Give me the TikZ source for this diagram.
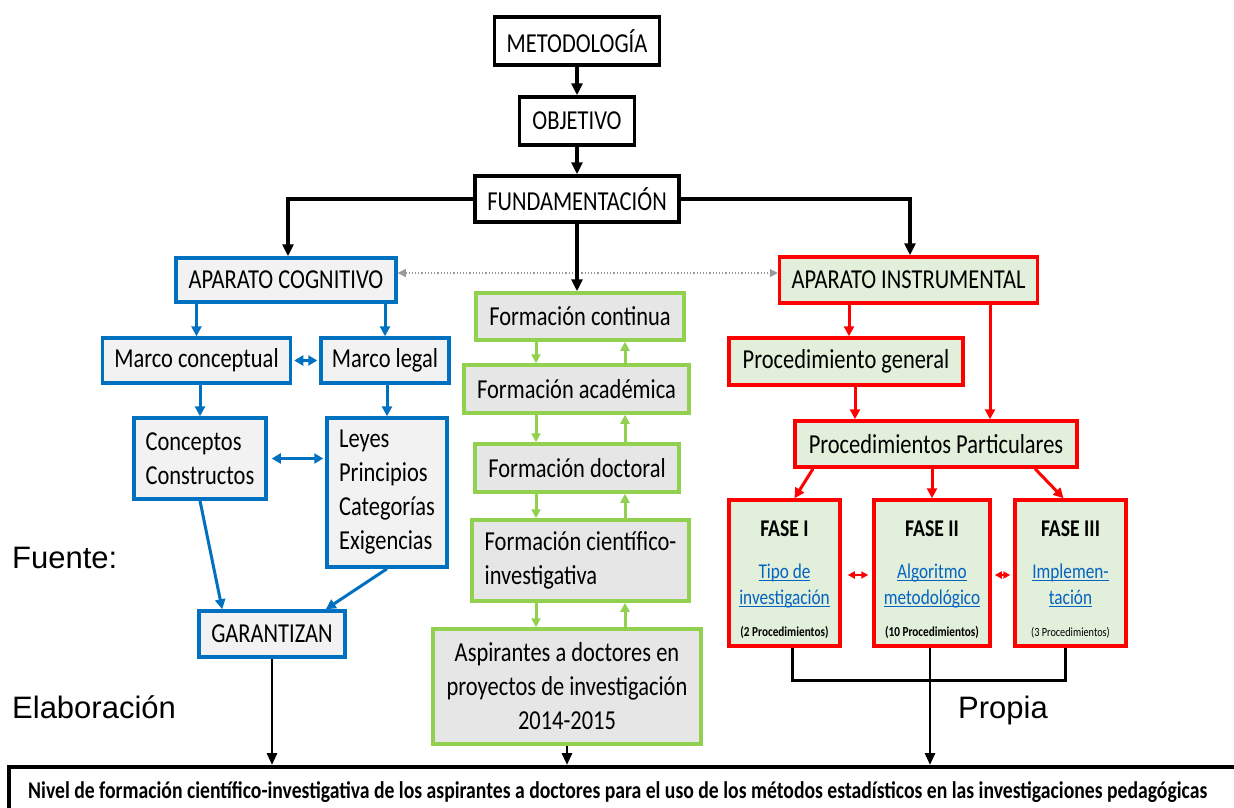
\documentclass[tikz,border=0pt]{standalone}
\usepackage{fontspec}
\usepackage{graphicx}
\setmainfont{Carlito}[FakeStretch=0.82]
\newfontfamily\arialfont{Liberation Sans}
\usetikzlibrary{arrows.meta,calc}

\definecolor{cogblue}{HTML}{0070C0}
\definecolor{cogfill}{HTML}{F2F2F2}
\definecolor{forgreen}{HTML}{92D050}
\definecolor{forfill}{HTML}{E6E6E6}
\definecolor{insred}{HTML}{FF0000}
\definecolor{insfill}{HTML}{E2EFDA}
\definecolor{linkblue}{HTML}{0563C1}
\definecolor{dotgray}{HTML}{999999}

% underlined hyperlink-like text
\newcommand\ulnk[1]{{\color{linkblue}\setbox0\hbox{#1}\rlap{\rule[-3pt]{\wd0}{1.3pt}}\box0}}

\begin{document}
\begin{tikzpicture}[x=1pt,y=-1pt,
  every node/.style={inner sep=0pt},
  bx/.style={draw, line width=3.5pt, rectangle, align=center,
    font=\fontsize{27.4}{34}\selectfont},
  blkbox/.style={bx, draw=black, fill=white},
  cogbox/.style={bx, draw=cogblue, fill=cogfill},
  forbox/.style={bx, draw=forgreen, fill=forfill},
  insbox/.style={bx, draw=insred, fill=insfill},
  blk/.style={draw=black, line width=3.2pt},
  blkarr/.style={blk, -{Triangle[length=12pt,width=11pt]}},
  thinblk/.style={draw=black, line width=2.8pt},
  thinblkarr/.style={thinblk, -{Triangle[length=12pt,width=10pt]}},
  cogarr/.style={draw=cogblue, line width=3pt, -{Triangle[length=10pt,width=10pt]}},
  cogdbl/.style={draw=cogblue, line width=3pt, {Triangle[length=9pt,width=10pt]}-{Triangle[length=9pt,width=10pt]}},
  forarr/.style={draw=forgreen, line width=3pt, -{Triangle[length=9pt,width=9pt]}},
  insarr/.style={draw=insred, line width=3pt, -{Triangle[length=10pt,width=10pt]}},
  insdbl/.style={draw=insred, line width=2pt, {Triangle[length=7pt,width=7pt]}-{Triangle[length=7pt,width=7pt]}},
  dotarr/.style={draw=dotgray, line width=1.2pt, dotted, {Triangle[length=8pt,width=8pt]}-{Triangle[length=8pt,width=8pt]}},
  fasetitle/.style={font=\bfseries\fontsize{24}{28}\selectfont},
  fasetext/.style={font=\fontsize{21}{26}\selectfont},
  fasenote/.style={font=\bfseries\fontsize{13.7}{16}\selectfont},
  srcfont/.style={font=\arialfont\fontsize{31}{36}\selectfont}
]
\useasboundingbox (0,0) rectangle (1234,807);
\clip (0,0) rectangle (1234,807);

% ---- top spine ----
\node[blkbox, minimum width=165pt, minimum height=48pt] (met) at (577,41) {METODOLOGÍA};
\node[blkbox, minimum width=115pt, minimum height=48pt] (obj) at (577,121) {OBJETIVO};
\node[blkbox, minimum width=204pt, minimum height=46pt] (fun) at (577,199) {FUNDAMENTACIÓN};

% ---- cognitive branch ----
\node[cogbox, minimum width=220pt, minimum height=44pt] (ac) at (286,280) {APARATO COGNITIVO};
\node[cogbox, minimum width=188pt, minimum height=45pt] (mc) at (196.5,360.5) {Marco conceptual};
\node[cogbox, minimum width=128pt, minimum height=45pt] (ml) at (385,360.5) {Marco legal};
\node[cogbox, align=left, minimum width=132pt, minimum height=81pt] (cc) at (200,458.5) {Conceptos\\Constructos};
\node[cogbox, align=left, minimum width=120pt, minimum height=149pt] (ly) at (387,492.5) {Leyes\\Principios\\Categorías\\Exigencias};
\node[cogbox, minimum width=146pt, minimum height=46pt] (ga) at (272,634) {GARANTIZAN};

% ---- formation column ----
\node[forbox, minimum width=208pt, minimum height=47pt] (fc) at (580,316.5) {Formación continua};
\node[forbox, minimum width=225pt, minimum height=48pt] (fa) at (576.5,389) {Formación académica};
\node[forbox, minimum width=204pt, minimum height=48pt] (fd) at (577,468) {Formación doctoral};
\node[forbox, align=left, minimum width=217pt, minimum height=81pt] (fci) at (580.5,560.5) {Formación científico-\\investigativa};
\node[forbox, minimum width=268pt, minimum height=115pt] (asp) at (567,686.5) {Aspirantes a doctores en\\proyectos de investigación\\2014-2015};

% ---- instrumental branch ----
\node[insbox, minimum width=258pt, minimum height=46pt] (ai) at (908.5,280) {APARATO INSTRUMENTAL};
\node[insbox, minimum width=234pt, minimum height=47pt] (pg) at (846,361.5) {Procedimiento general};
\node[insbox, minimum width=282pt, minimum height=46pt] (pp) at (936,444) {Procedimientos Particulares};
\node[insbox, minimum width=111pt, minimum height=146pt] (f1) at (784.5,573) {};
\node[insbox, minimum width=116pt, minimum height=146pt] (f2) at (932,573) {};
\node[insbox, minimum width=111pt, minimum height=146pt] (f3) at (1070.5,573) {};

\node[fasetitle, anchor=base] (f1t) at (784.5,536) {FASE I};
\node[fasetext, anchor=base] (f1a) at (784.5,578) {\ulnk{Tipo de}};
\node[fasetext, anchor=base] (f1b) at (784.5,604) {\ulnk{investigación}};
\node[fasenote, anchor=base] (f1n) at (784.5,636) {(2 Procedimientos)};

\node[fasetitle, anchor=base] (f2t) at (932,536) {FASE II};
\node[fasetext, anchor=base] (f2a) at (932,578) {\ulnk{Algoritmo}};
\node[fasetext, anchor=base] (f2b) at (932,604) {\ulnk{metodológico}};
\node[fasenote, anchor=base] (f2n) at (932,636) {(10 Procedimientos)};

\node[fasetitle, anchor=base] (f3t) at (1070.5,536) {FASE III};
\node[fasetext, anchor=base] (f3a) at (1070.5,578) {\ulnk{Implemen-}};
\node[fasetext, anchor=base] (f3b) at (1070.5,604) {\ulnk{tación}};
\node[font=\fontsize{12.5}{15}\selectfont, anchor=base] (f3n) at (1070.5,636) {(3 Procedimientos)};

% ---- result box ----
\node[draw=black, line width=4pt, fill=white, anchor=north west,
  minimum width=1250pt, minimum height=70pt] (niv) at (7,765) {};
\node[anchor=base west] (nivt) at (28,798) {\resizebox{1179pt}{\height}{\bfseries\fontsize{24}{28}\selectfont Nivel de formación científico-investigativa de los aspirantes a doctores para el uso de los métodos estadísticos en las investigaciones pedagógicas}};

% ---- source note ----
\node[srcfont, anchor=base west] (src1) at (12,568) {Fuente:};
\node[srcfont, anchor=base west] (src2) at (12,718) {Elaboración};
\node[srcfont, anchor=base west] (src3) at (958,718) {Propia};

% ---- guide coordinates for vertical connectors ----
\coordinate (xL) at (288,0);
\coordinate (xR) at (910,0);
\coordinate (gd) at (536,0);
\coordinate (gu) at (625,0);
\coordinate (xA) at (849,0);
\coordinate (xB) at (990,0);
\coordinate (xC) at (855,0);

% ---- black connectors ----
\draw[blkarr] (met.south) -- (obj.north);
\draw[blkarr] (obj.south) -- (fun.north);
\draw[blkarr] (fun.west) -| (ac.north -| xL);
\draw[blkarr] (fun.east) -| (ai.north -| xR);
\draw[dotarr] ([yshift=7pt]ac.east) -- ([yshift=7pt]ai.west);
\draw[blkarr] (fun.south) -- (fun.south |- fc.north);

% ---- cognitive connectors ----
\draw[cogarr] (ac.south -| mc.north) -- (mc.north);
\draw[cogarr] (ac.south -| ml.north) -- (ml.north);
\draw[cogdbl, shorten <=2pt, shorten >=2pt] (mc.east) -- (ml.west);
\draw[cogarr] (cc.north |- mc.south) -- (cc.north);
\draw[cogarr] (ly.north |- ml.south) -- (ly.north);
\draw[cogdbl, shorten <=4pt, shorten >=2pt] (cc.east) -- (cc.east -| ly.west);
\draw[cogarr] (cc.south) -- ($(ga.north west)!0.167!(ga.north east)$);
\draw[cogarr] (ly.south) -- ($(ga.north west)!0.86!(ga.north east)$);
\draw[thinblkarr] (ga.south) -- (ga.south |- niv.north);

% ---- formation connectors ----
\draw[forarr] (fc.south -| gd) -- (fa.north -| gd);
\draw[forarr] (fa.north -| gu) -- (fc.south -| gu);
\draw[forarr] (fa.south -| gd) -- (fd.north -| gd);
\draw[forarr] (fd.north -| gu) -- (fa.south -| gu);
\draw[forarr] (fd.south -| gd) -- (fci.north -| gd);
\draw[forarr] (fci.north -| gu) -- (fd.south -| gu);
\draw[forarr] (fci.south -| gd) -- (asp.north -| gd);
\draw[forarr] (asp.north -| gu) -- (fci.south -| gu);
\draw[thinblkarr] (asp.south) -- (asp.south |- niv.north);

% ---- instrumental connectors ----
\draw[insarr] (ai.south -| xA) -- (pg.north -| xA);
\draw[insarr] (ai.south -| xB) -- (pp.north -| xB);
\draw[insarr] (pg.south -| xC) -- (pp.north -| xC);
\draw[insarr] ([xshift=-123pt]pp.south) -- ([xshift=10pt]f1.north);
\draw[insarr] ([xshift=-4pt]pp.south) -- (f2.north);
\draw[insarr] ([xshift=99pt]pp.south) -- ([xshift=-7pt]f3.north);
\draw[insdbl] ([xshift=6pt,yshift=-2pt]f1.east) -- ([xshift=-4pt,yshift=-2pt]f2.west);
\draw[insdbl] ([xshift=3pt,yshift=-2pt]f2.east) -- ([xshift=-3pt,yshift=-2pt]f3.west);
\draw[thinblk] ([xshift=8pt]f1.south) -- ++(0,33) -| ([xshift=-5pt]f3.south);
\draw[thinblkarr] ([xshift=-2pt]f2.south) -- ([xshift=-2pt]f2.south |- niv.north);
\end{tikzpicture}
\end{document}
